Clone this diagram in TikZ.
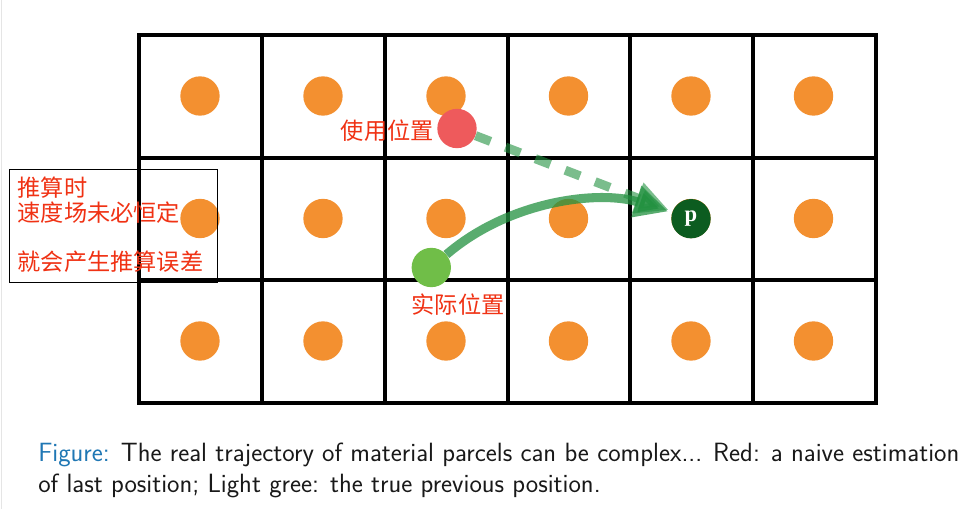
\documentclass[tikz,border=0pt]{standalone}
\usepackage{fontspec}
\newfontfamily\cjk{Noto Sans CJK SC}
\newfontfamily\pserif{Liberation Serif}
\usetikzlibrary{arrows.meta}
\definecolor{dotorange}{RGB}{243,144,48}
\definecolor{dotred}{RGB}{238,90,92}
\definecolor{dotgreen}{RGB}{112,190,72}
\definecolor{pgreen}{RGB}{12,92,32}
\definecolor{arrgreen}{RGB}{34,145,64}
\definecolor{labred}{RGB}{240,50,20}
\definecolor{capblue}{RGB}{31,119,180}
\tikzset{
  gridline/.style={line width=3pt, line cap=rect},
  odot/.style={circle, fill=dotorange, inner sep=0pt, minimum size=29.5pt},
  pdot/.style={circle, inner sep=0pt, minimum size=29.5pt},
  lab/.style={text=labred, font=\cjk\fontsize{17.4}{18.4}\selectfont, inner sep=0pt},
  garrow/.style={draw=arrgreen, line width=6.8pt, -{Triangle[length=25pt,width=23pt]}},
}
\begin{document}
\begin{tikzpicture}[x=0.75pt,y=-0.75pt]
\useasboundingbox (0,0) rectangle (979,509);
\fill[white] (0,0) rectangle (979,509);
\draw[black!10, line width=1pt] (1.5,0) -- (1.5,509);
% grid
\foreach \x in {139,261.83,384.67,507.5,630.33,753.17,876} \draw[gridline] (\x,35) -- (\x,403);
\foreach \y in {35,157.67,280.33,403} \draw[gridline] (139,\y) -- (876,\y);
% orange dots
\foreach \c/\x in {1/200,2/323,3/446,4/568.5,5/691,6/813.5}{
  \foreach \r/\y in {1/96,2/218.5,3/341}{
    \node[odot] (d\r\c) at (\x,\y) {};
  }
}
% left note box
\draw[line width=0.75pt] (9,170) rectangle (217,283);
\node[lab, anchor=north west, align=left] (note) at (17.5,177) {推算时\\速度场未必恒定\\[18.4pt]就会产生推算误差};
% special dots
\node[pdot, fill=dotred] (used) at (457,128.5) {};
\node[pdot, fill=dotgreen] (actual) at (431.3,267.5) {};
\node[pdot, fill=pgreen, text=white, font=\pserif\fontsize{17}{17}\selectfont\bfseries] (p) at (691,218.7) {p};
% labels
\node[lab, anchor=east] (usedlab) at (434,131) {使用位置};
\node[lab] (actuallab) at (458,305) {实际位置};
% arrows
\draw[garrow, draw opacity=0.6, fill opacity=0.6, dash pattern=on 12pt off 12pt, shorten >=3pt] (used) -- (p);
\draw[garrow, draw opacity=0.75, fill opacity=0.75, shorten >=3pt] (actual) .. controls (510,200) and (600,190) .. (p);
% caption
\node[anchor=base west, align=left, inner sep=0pt, font=\sffamily\fontsize{19.8}{23.25}\selectfont, text=black!90] (cap) at (38,492.5)
  {\textcolor{capblue}{Figure:} The real trajectory of material parcels can be complex... Red: a naive estimation\\of last position; Light gree: the true previous position.};
\end{tikzpicture}
\end{document}
